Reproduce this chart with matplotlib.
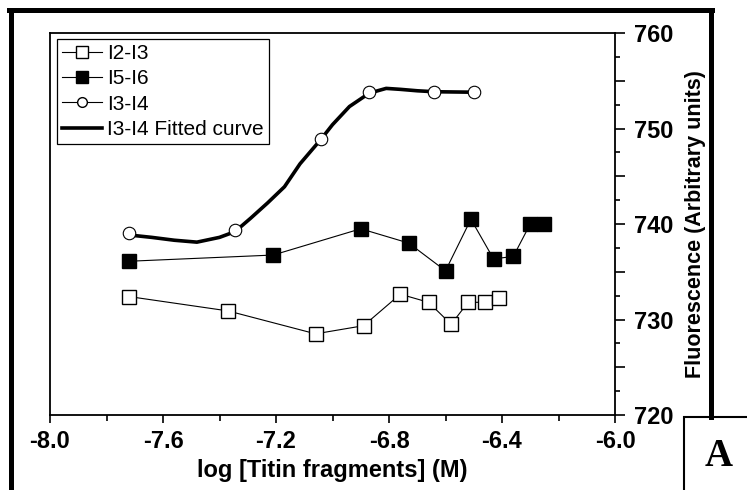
import matplotlib
matplotlib.use("Agg")
import matplotlib.pyplot as plt
from matplotlib.lines import Line2D
from matplotlib.patches import Rectangle
from matplotlib.ticker import MultipleLocator

plt.rcParams["font.family"] = ["Liberation Sans", "DejaVu Sans"]

# data
i2_i3_x = [-7.72, -7.37, -7.06, -6.89, -6.76, -6.66, -6.58, -6.52, -6.46, -6.41]
i2_i3_y = [732.4, 730.9, 728.5, 729.35, 732.65, 731.8, 729.5, 731.8, 731.8, 732.3]

i5_i6_x = [-7.72, -7.21, -6.90, -6.73, -6.60, -6.51, -6.43, -6.36, -6.30, -6.25]
i5_i6_y = [736.1, 736.75, 739.5, 738.0, 735.1, 740.5, 736.35, 736.6, 740.0, 740.0]

i3_i4_x = [-7.72, -7.345, -7.04, -6.87, -6.64, -6.50]
i3_i4_y = [739.05, 739.4, 748.9, 753.8, 753.8, 753.8]

fit_x = [-7.72, -7.64, -7.56, -7.48, -7.40, -7.345, -7.29, -7.23, -7.17, -7.115,
         -7.04, -7.00, -6.94, -6.87, -6.81, -6.76, -6.70, -6.64, -6.50]
fit_y = [738.85, 738.6, 738.3, 738.1, 738.6, 739.2, 740.6, 742.2, 743.9, 746.3,
         748.9, 750.4, 752.3, 753.7, 754.2, 754.1, 753.95, 753.85, 753.8]

x_ticks = [-8.0, -7.6, -7.2, -6.8, -6.4, -6.0]
x_tick_labels = ["-8.0", "-7.6", "-7.2", "-6.8", "-6.4", "-6.0"]
y_ticks = [720, 725, 730, 735, 740, 745, 750, 755, 760]
y_tick_labels = ["720", "", "730", "", "740", "", "750", "", "760"]
legend_labels = ["I2-I3", "I5-I6", "I3-I4", "I3-I4 Fitted curve"]

W, H = 747, 490
fig = plt.figure(figsize=(W / 100, H / 100), dpi=100)
fig.patch.set_facecolor("white")

ax = fig.add_axes([50 / W, 75 / H, 565 / W, 382 / H])

ax.plot(fit_x, fit_y, color="black", lw=2.6, zorder=2)
ax.plot(i2_i3_x, i2_i3_y, color="black", lw=0.8, marker="s", ms=10,
        mfc="white", mec="black", mew=1.0, zorder=3)
ax.plot(i5_i6_x, i5_i6_y, color="black", lw=0.8, marker="s", ms=10,
        mfc="black", mec="black", mew=1.0, zorder=3)
ax.plot(i3_i4_x, i3_i4_y, color="none", marker="o", ms=9,
        mfc="white", mec="black", mew=0.8, zorder=4)

ax.set_xlim(-8.0, -6.0)
ax.set_ylim(720, 760)

ax.set_xticks(x_ticks)
ax.set_xticklabels(x_tick_labels)
ax.xaxis.set_minor_locator(MultipleLocator(0.2))
ax.yaxis.tick_right()
ax.yaxis.set_label_position("right")
ax.set_yticks(y_ticks)
ax.set_yticklabels(y_tick_labels)
ax.yaxis.set_minor_locator(MultipleLocator(2.5))

ax.tick_params(axis="x", which="major", direction="out", length=6, width=1.2,
               pad=5, labelsize=17)
ax.tick_params(axis="x", which="minor", direction="out", length=4, width=1.2)
ax.tick_params(axis="y", which="major", direction="out", length=7, width=1.2,
               pad=7, labelsize=17)
ax.tick_params(axis="y", which="minor", direction="out", length=3.6, width=1.2)
for lab in ax.get_xticklabels() + ax.get_yticklabels():
    lab.set_fontweight("bold")
for sp in ax.spines.values():
    sp.set_linewidth(1.3)

ax.set_xlabel("log [Titin fragments] (M)", fontsize=17, fontweight="bold", labelpad=4)
ax.set_ylabel("Fluorescence (Arbitrary units)", fontsize=15.5, fontweight="bold",
              labelpad=8)

leg_handles = [
    Line2D([], [], color="black", lw=0.8, marker="s", ms=8, mfc="white", mec="black"),
    Line2D([], [], color="black", lw=0.8, marker="s", ms=8, mfc="black", mec="black"),
    Line2D([], [], color="black", lw=0.8, marker="o", ms=7, mfc="white", mec="black"),
    Line2D([], [], color="black", lw=2.6),
]
leg = ax.legend(leg_handles, legend_labels,
                loc="upper left", bbox_to_anchor=(7 / 565, 376 / 382),
                borderaxespad=0, fontsize=15, fancybox=False, framealpha=1,
                edgecolor="black", handlelength=1.9, handletextpad=0.25,
                labelspacing=0.3, borderpad=0.25)
leg.get_frame().set_linewidth(0.9)

# outer frame and panel box
fl = 3.6
fig.add_artist(Line2D([10.5 / W, 10.5 / W], [0, 1 - 10 / H], color="black", lw=fl,
                      transform=fig.transFigure))
fig.add_artist(Line2D([10.5 / W - 0.002, 710.5 / W + 0.002], [1 - 10 / H, 1 - 10 / H],
                      color="black", lw=fl, transform=fig.transFigure))
fig.add_artist(Line2D([710.5 / W, 710.5 / W], [1 - 10 / H, 73 / H], color="black", lw=fl,
                      transform=fig.transFigure))
fig.add_artist(Rectangle((684 / W, -0.01), 0.2, 73 / H + 0.01, transform=fig.transFigure,
                         facecolor="white", edgecolor="black", lw=1.5))
fig.text(719 / W, (H - 456) / H, "A", fontsize=28, fontweight="bold",
         family="Liberation Serif", ha="center", va="center")

fig.savefig("out.png", dpi=100)
